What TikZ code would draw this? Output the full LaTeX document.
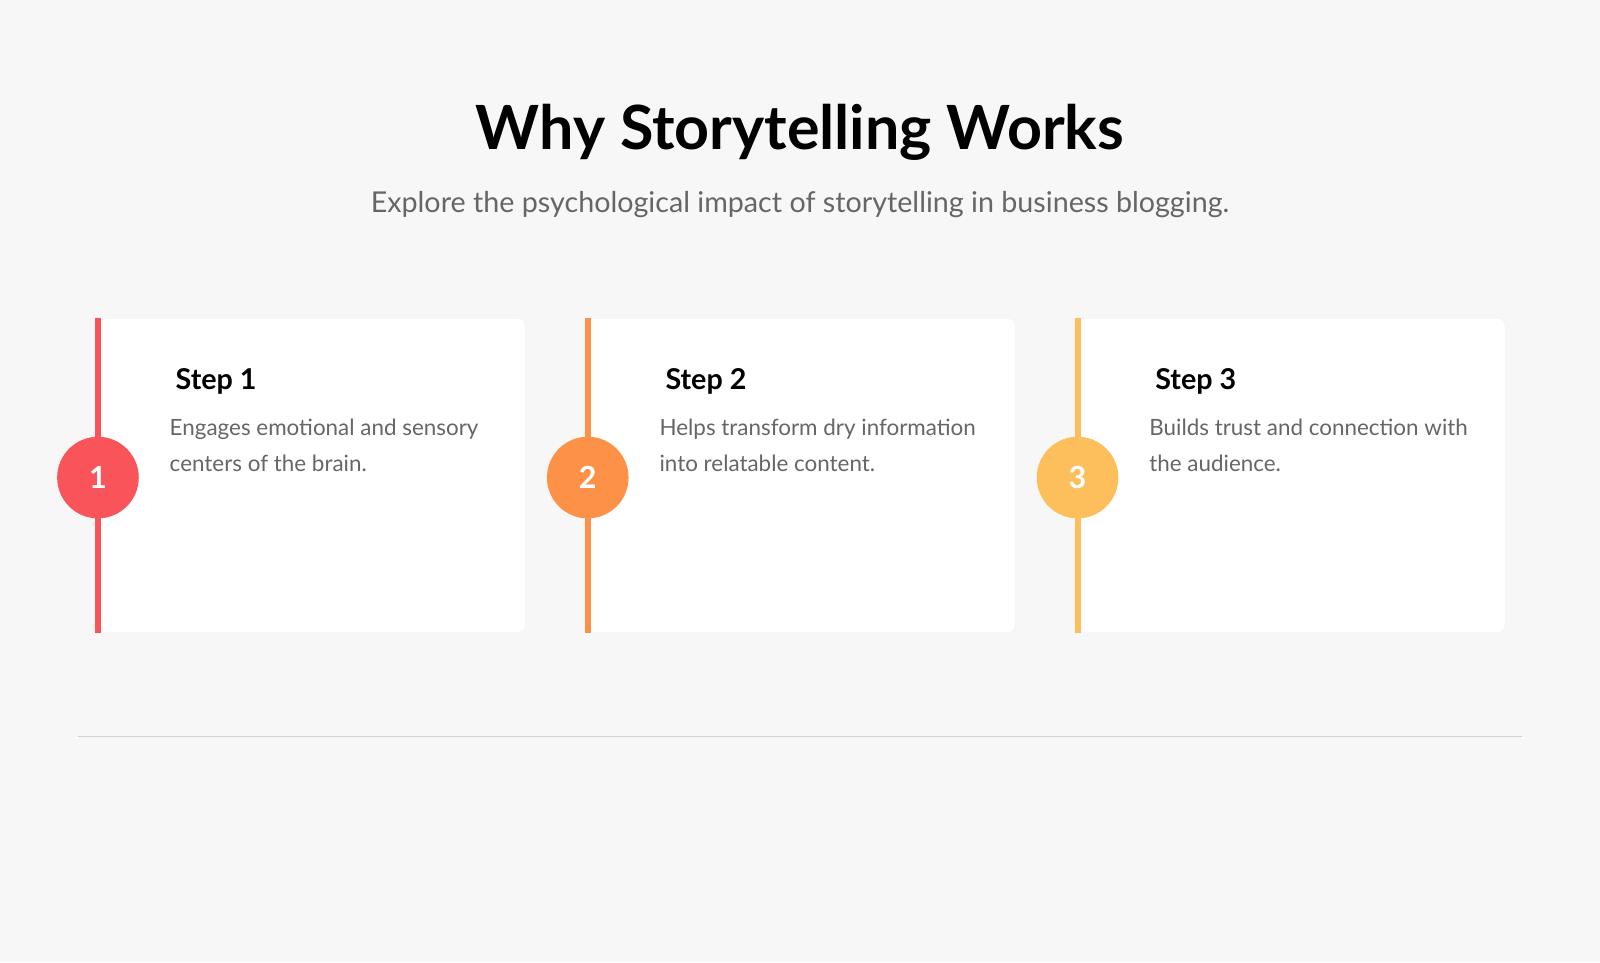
\documentclass[tikz,border=0pt]{standalone}
\usepackage{fontspec}
\setmainfont{Lato}
\definecolor{bg}{HTML}{F7F7F7}
\definecolor{cone}{HTML}{F8545A}
\definecolor{ctwo}{HTML}{FD9148}
\definecolor{cthree}{HTML}{FDBE5C}
\definecolor{txtgray}{HTML}{666666}
\tikzset{
  card/.style={fill=white,draw=black!4,rounded corners=4pt},
  steptitle/.style={anchor=base west,font=\fontsize{16}{19}\selectfont\bfseries},
  stepdesc/.style={anchor=north west,align=left,text=txtgray,
    font=\fontsize{12.5}{20.5}\selectfont,inner sep=0pt},
  stepnum/.style={circle,minimum size=1.6cm,inner sep=0pt,text=white,
    font=\fontsize{17}{17}\selectfont\bfseries}
}
\begin{document}
\begin{tikzpicture}[x=0.02cm,y=-0.02cm]
   \fill[bg] (0,0) rectangle (1568,943);
   \node (title) at (784,130) {\fontsize{34}{40}\selectfont\bfseries Why Storytelling Works};
   \node[text=txtgray] (sub) at (784,200) {\fontsize{16}{20}\selectfont Explore the psychological impact of storytelling in business blogging.};

   \foreach \i/\x/\c/\d in {1/95/cone/{Engages emotional and sensory\\centers of the brain.},
                            2/575/ctwo/{Helps transform dry information\\into relatable content.},
                            3/1055/cthree/{Builds trust and connection with\\the audience.}}{
     \draw[card] (\x,312) rectangle (\x+420,620);
     \fill[\c] (\x-2,312) rectangle (\x+4,620);
     \node[stepnum,fill=\c] (num\i) at (\x+1,468) {\raisebox{-0.45ex}{\i}};
     \node[steptitle] (step\i) at (\x+71,382) {Step \i};
     \node[stepdesc] (desc\i) at (\x+71,410) {\d};
   }

   \draw[black!18,line width=0.8pt] (76,722) -- (1492,722);
 \end{tikzpicture}
\end{document}
